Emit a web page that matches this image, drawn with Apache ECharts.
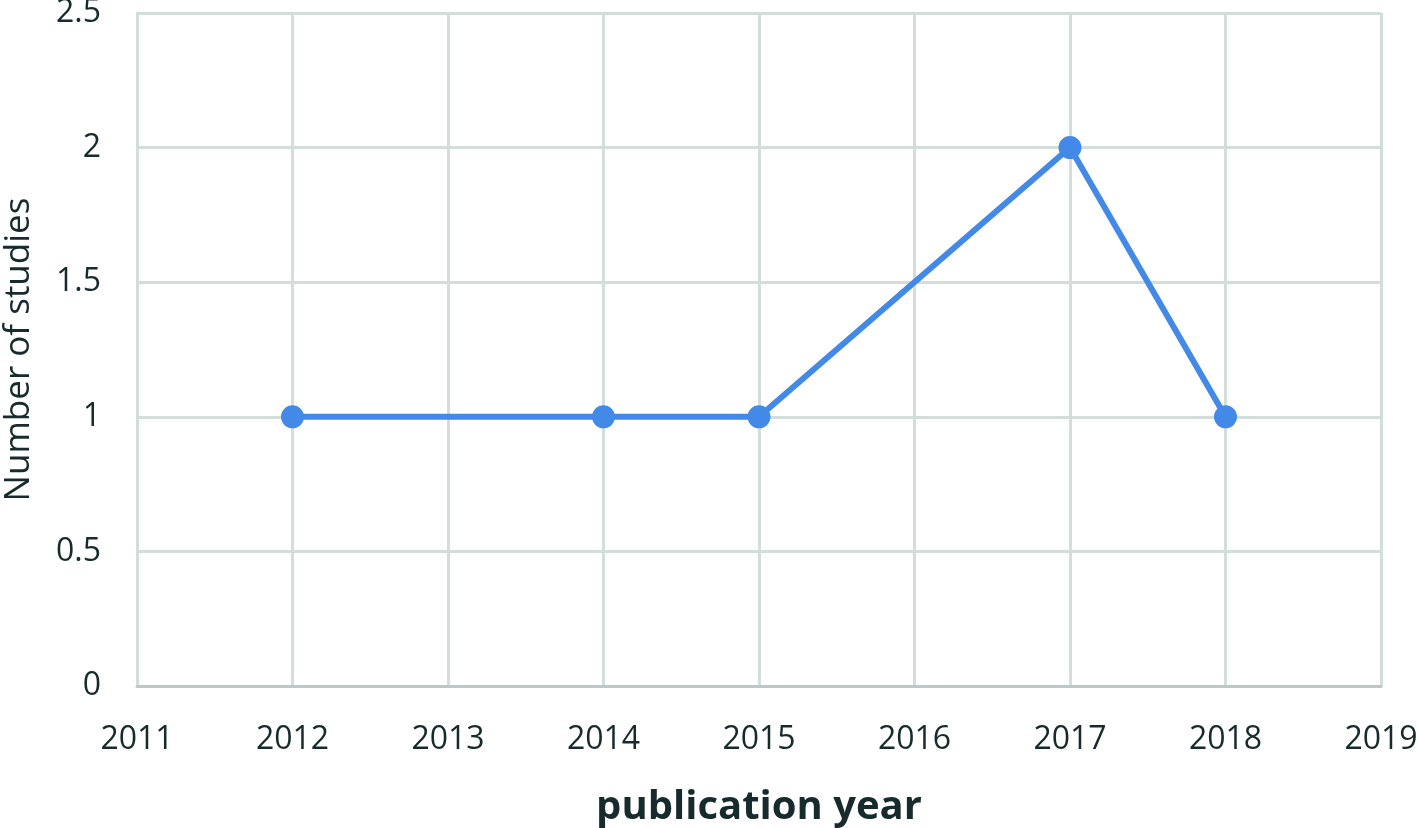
<!DOCTYPE html>
<html>
<head>
<meta charset="utf-8">
<script src="https://cdn.jsdelivr.net/npm/echarts@6/dist/echarts.min.js"></script>
<style>
html,body{margin:0;padding:0;background:#fff;}
#chart{width:1418px;height:828px;}
</style>
</head>
<body>
<div id="chart"></div>
<script>
const years = [2012, 2014, 2015, 2017, 2018];
const studies = [1, 1, 1, 2, 1];
const xName = 'publication year';
const yName = 'Number of studies';

const chart = echarts.init(document.getElementById('chart'));
const textColor = '#172a2c';
const gridColor = '#d3dedb';
chart.setOption({
  animation: false,
  backgroundColor: '#ffffff',
  grid: {left: 137, right: 37, top: 13, bottom: 142, containLabel: false, outerBoundsMode: 'none'},
  xAxis: {
    type: 'value', min: 2011, max: 2019, interval: 1,
    name: xName, nameLocation: 'middle', nameGap: 102,
    nameTextStyle: {fontFamily: 'Open Sans', fontSize: 40, fontWeight: 'bold', color: textColor},
    axisLine: {show: true, lineStyle: {color: '#bcc8c8', width: 3}},
    axisTick: {show: false},
    axisLabel: {fontFamily: 'Open Sans', fontSize: 32, color: textColor, margin: 38, formatter: v => String(v)},
    splitLine: {show: true, lineStyle: {color: gridColor, width: 3}}
  },
  yAxis: {
    type: 'value', min: 0, max: 2.5, interval: 0.5,
    name: yName, nameLocation: 'middle', nameGap: 100,
    nameTextStyle: {fontFamily: 'Open Sans', fontSize: 35, color: textColor},
    axisLine: {show: true, lineStyle: {color: gridColor, width: 3}},
    axisTick: {show: false},
    axisLabel: {fontFamily: 'Open Sans', fontSize: 32, color: textColor, margin: 36, formatter: v => String(v)},
    splitLine: {show: true, lineStyle: {color: gridColor, width: 3}}
  },
  series: [{
    type: 'line',
    data: years.map((y, i) => [y, studies[i]]),
    symbol: 'circle', symbolSize: 23,
    lineStyle: {color: '#4289e8', width: 6},
    itemStyle: {color: '#4289e8'}
  }]
});
</script>
</body>
</html>
